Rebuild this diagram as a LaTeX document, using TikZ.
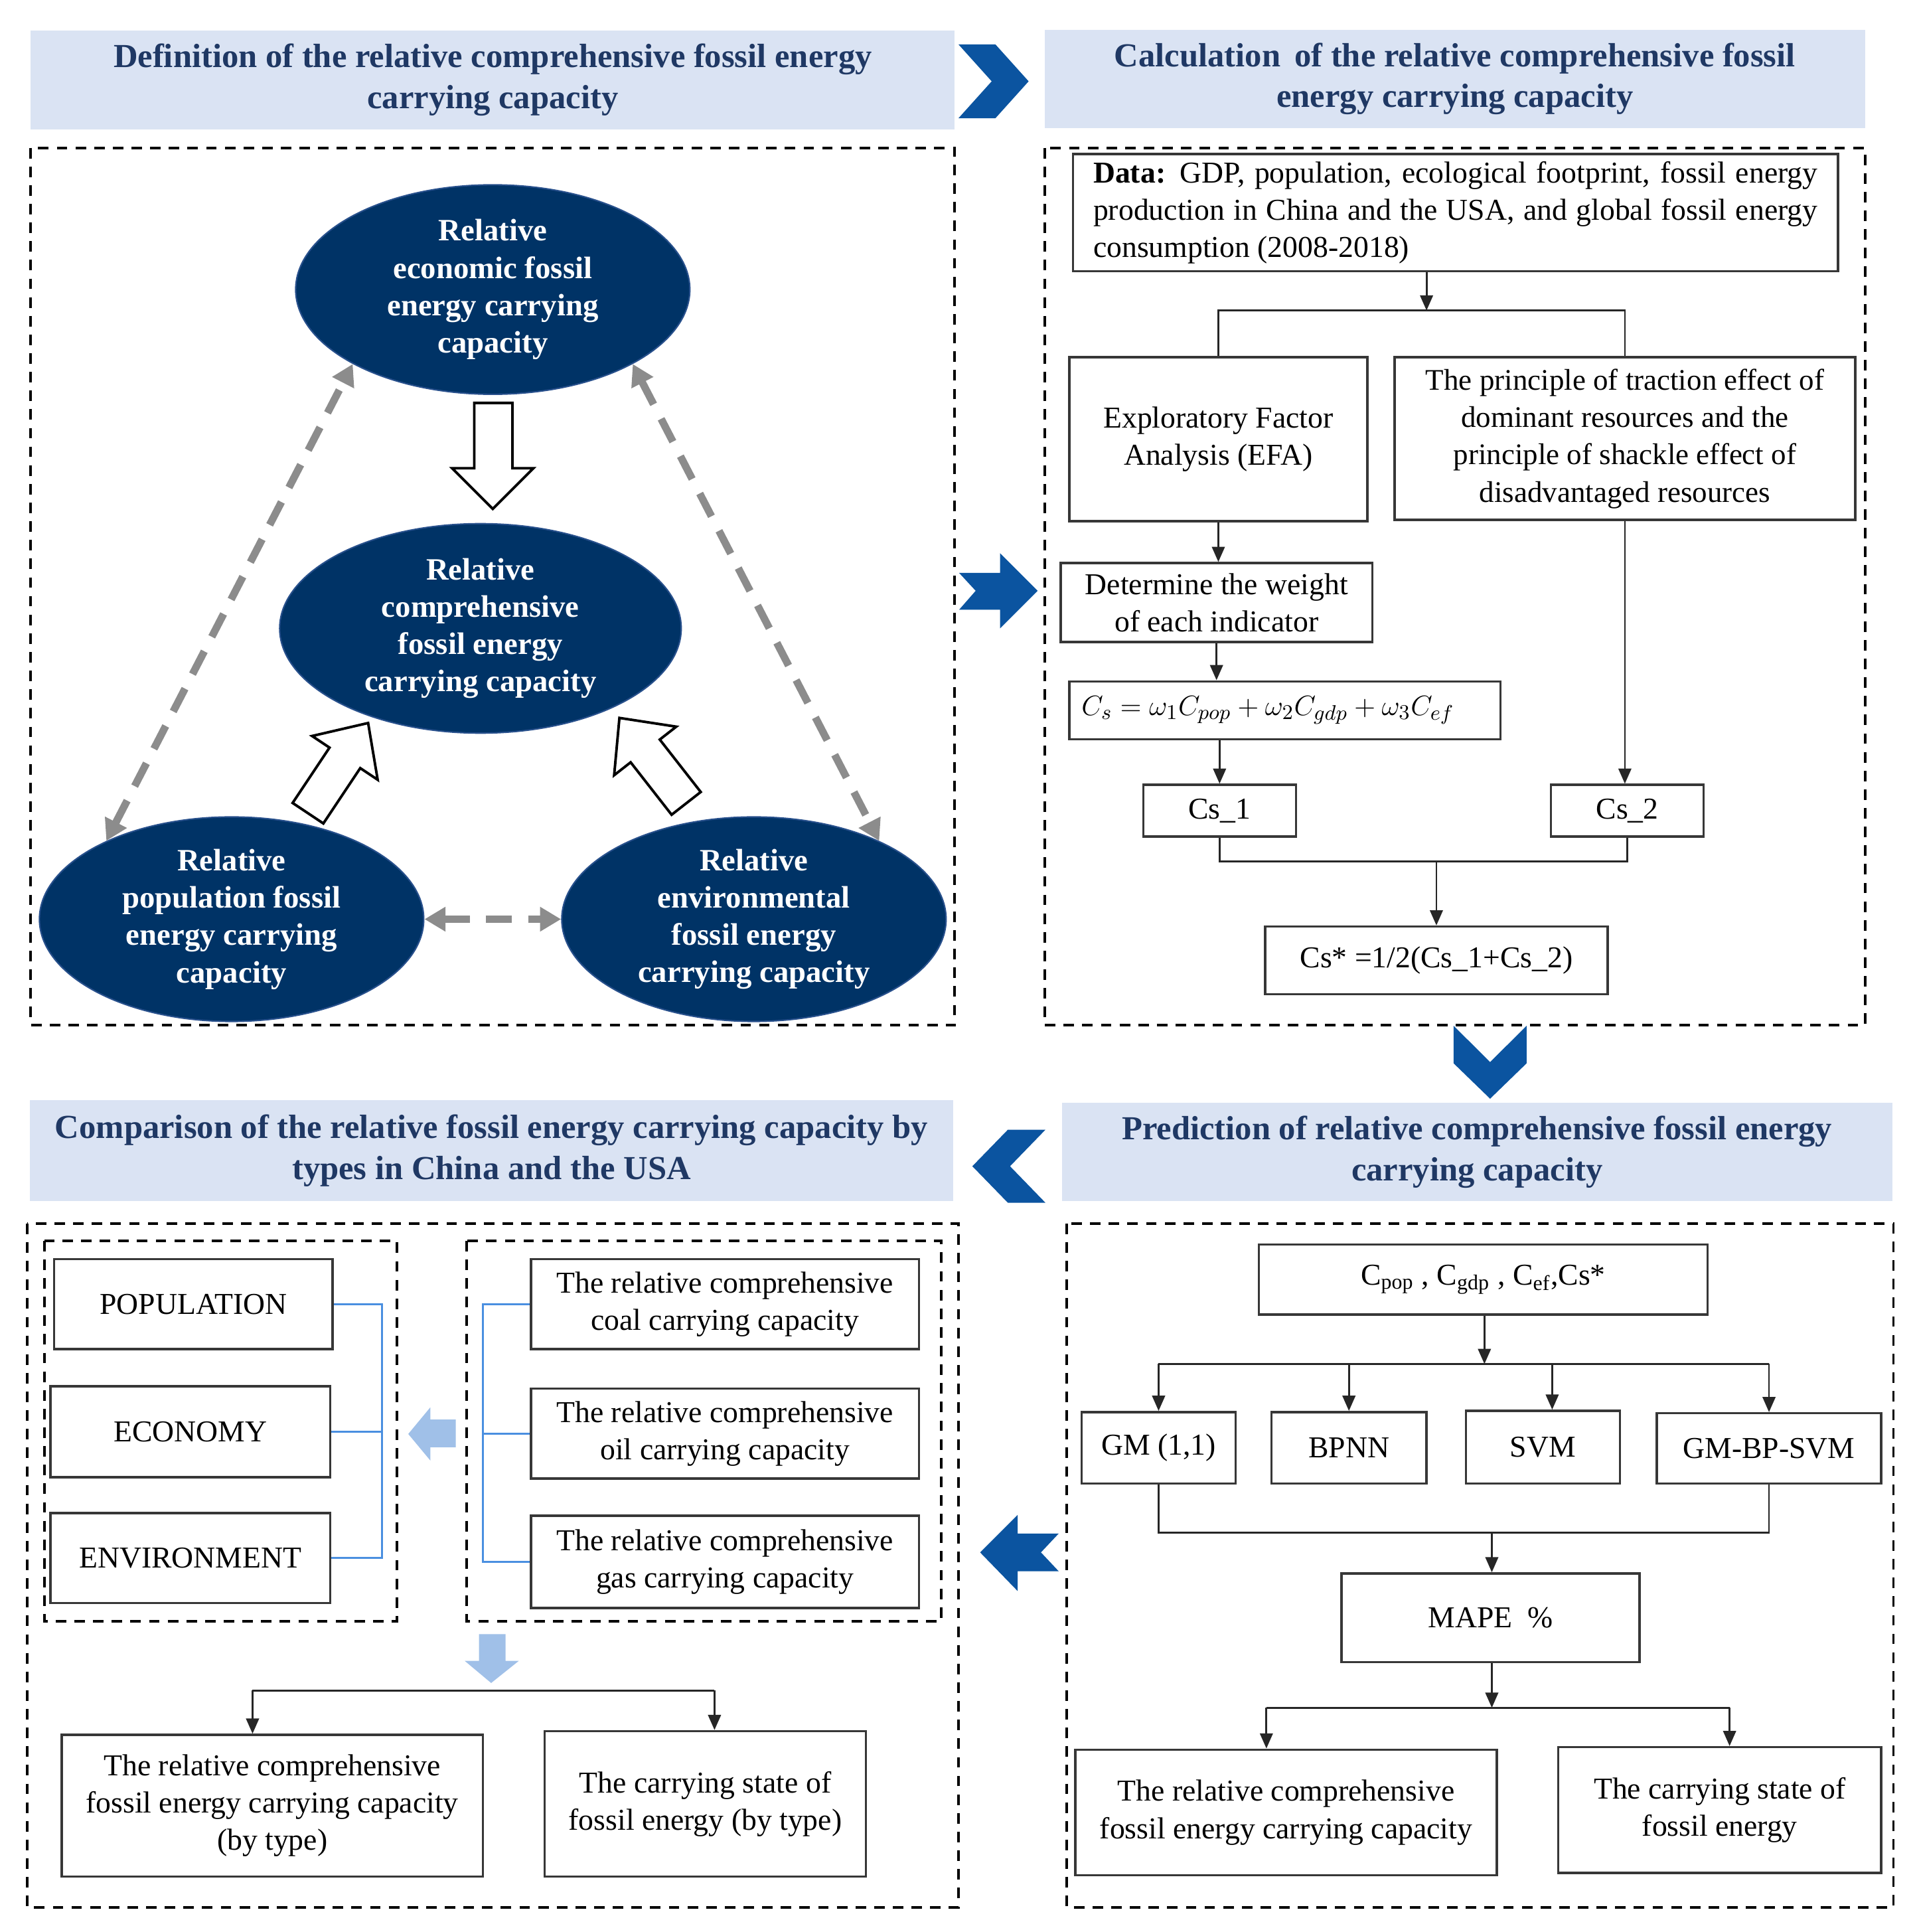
\documentclass[tikz,border=0pt]{standalone}
\usepackage{fontspec}
\setmainfont{Liberation Serif}
\usetikzlibrary{arrows.meta,shapes.geometric,calc}
\definecolor{navy}{RGB}{0,51,102}
\definecolor{navyedge}{RGB}{40,80,140}
\definecolor{ttl}{RGB}{31,56,100}
\definecolor{band}{RGB}{218,227,243}
\definecolor{chev}{RGB}{11,84,160}
\definecolor{lblue}{RGB}{160,192,232}
\definecolor{lline}{RGB}{74,143,224}
\definecolor{dgray}{RGB}{140,140,140}
\definecolor{boxc}{RGB}{55,55,55}
\def\pxu{0.01856cm}
\newcommand{\mybox}[7]{\node[#1, minimum width={((#4)-(#2))*\pxu}, minimum height={((#5)-(#3))*\pxu}] (#6) at ({((#2)+(#4))/2},{((#3)+(#5))/2}) {#7};}
\tikzset{
  titleband/.style={fill=band, text=ttl, font=\fontsize{14.4}{17.6}\selectfont\bfseries, align=center, inner sep=0pt},
  dbox/.style={draw=black, line width=1.1pt, dash pattern=on 4.5pt off 3.5pt},
  plainbox/.style={draw=boxc, line width=1pt, fill=white, align=center, inner sep=0pt, font=\fontsize{13}{16}\selectfont},
  ell/.style={ellipse, fill=navy, draw=navyedge, line width=0.6pt, text=white, align=center, inner sep=0pt, font=\fontsize{13.3}{16}\selectfont\bfseries},
  conn/.style={draw=black!85, line width=0.8pt},
  arr/.style={conn, -{Triangle[length=6.5pt,width=5.5pt]}},
  grayarr/.style={draw=dgray, line width=3.2pt, dash pattern=on 11pt off 7pt, {Triangle[length=9pt,width=10pt]}-{Triangle[length=9pt,width=10pt]}},
  hollow/.style={draw=black, line width=1.1pt, fill=white, line join=miter},
  chevron/.style={fill=chev, draw=none},
  lightarrow/.style={fill=lblue, draw=none},
  blueline/.style={draw=lline, line width=0.8pt},
}
\begin{document}
\begin{tikzpicture}[x=0.01856cm, y=-0.01856cm]
\useasboundingbox (0,0) rectangle (1556,1568);

% ---------- title bands ----------
\mybox{titleband}{25}{25}{775}{105}{t1}{Definition of the relative comprehensive fossil energy\\carrying capacity}
\mybox{titleband}{848}{24}{1514}{104}{t2}{Calculation\, of the relative comprehensive fossil\\energy carrying capacity}
\mybox{titleband}{24}{893}{774}{975}{t3}{Comparison of the relative fossil energy carrying capacity by\\types in China and the USA}
\mybox{titleband}{862}{895}{1536}{975}{t4}{Prediction of relative comprehensive fossil energy\\carrying capacity}

% ---------- chevrons / block arrows between panels ----------
\fill[chevron] (778,36) -- (808,36) -- (835,66) -- (808,96) -- (778,96) -- (805,66) -- cycle;
\fill[chevron] (778.6,465) -- (811.8,465) -- (811.8,449) -- (842.3,479.5) -- (811.8,510) -- (811.8,494.8) -- (778.6,494.8) -- (792,479.5) -- cycle;
\fill[chevron] (1180,832.5) -- (1209.6,862) -- (1239.2,832.5) -- (1239.2,863) -- (1209.6,891.7) -- (1180,863) -- cycle;
\fill[chevron] (848.6,916.9) -- (818.1,916.9) -- (789.3,946.5) -- (818.1,976.1) -- (848.6,976.1) -- (819.9,946.5) -- cycle;
\fill[chevron] (795.6,1259.9) -- (826.1,1229.4) -- (826.1,1244.6) -- (859.4,1244.6) -- (845,1259.9) -- (859.4,1275.2) -- (826.1,1275.2) -- (826.1,1291.3) -- cycle;

% ---------- panel 1: definition ----------
\draw[dbox] (25,120) rectangle (775,832);
\node[ell, minimum width={320*\pxu}, minimum height={170*\pxu}] (eco) at (400,235) {Relative\\economic fossil\\energy carrying\\capacity};
\node[ell, minimum width={326*\pxu}, minimum height={170*\pxu}] (comp) at (390,510) {Relative\\comprehensive\\fossil energy\\carrying capacity};
\node[ell, minimum width={312*\pxu}, minimum height={166*\pxu}] (pope) at (188,746) {Relative\\population fossil\\energy carrying\\capacity};
\node[ell, minimum width={312*\pxu}, minimum height={166*\pxu}] (enve) at (612,746) {Relative\\environmental\\fossil energy\\carrying capacity};

\draw[grayarr] (pope.148) -- (eco.208);
\draw[grayarr] (eco.332) -- (enve.32);
\draw[grayarr] (pope.east) -- (enve.west);

\draw[hollow] (385,327) -- (416,327) -- (416,380) -- (433,380) -- (400,413) -- (367,380) -- (385,380) -- cycle;
\begin{scope}[shift={(250,660)}, rotate=56.3]
  \draw[hollow] (0,-15) -- (54,-15) -- (54,-32) -- (88,0) -- (54,32) -- (54,15) -- (0,15) -- cycle;
\end{scope}
\begin{scope}[shift={(557,652)}, rotate=128]
  \draw[hollow] (0,-15) -- (54,-15) -- (54,-32) -- (88,0) -- (54,32) -- (54,15) -- (0,15) -- cycle;
\end{scope}

% ---------- panel 2: calculation ----------
\draw[dbox] (848,120) rectangle (1514,832);
\mybox{plainbox, align=justify, text width={588*\pxu}}{871}{125}{1492}{220}{data}{\textbf{Data:} GDP, population, ecological footprint, fossil energy\linebreak production in China and the USA, and global fossil energy\linebreak consumption (2008-2018)}
\mybox{plainbox}{868}{290}{1110}{423}{efa}{Exploratory Factor\\Analysis (EFA)}
\mybox{plainbox, font=\fontsize{12.8}{16}\selectfont}{1132}{290}{1506}{422}{prin}{The principle of traction effect of\\dominant resources and the\\principle of shackle effect of\\disadvantaged resources}
\mybox{plainbox}{861}{457}{1114}{521}{det}{Determine the weight\\of each indicator}
\mybox{plainbox, font=\fontsize{12.4}{16}\selectfont, text width={330*\pxu}, align=left}{868}{553}{1218}{600}{form}{\mbox{$C_s=\omega_1C_{pop}+\omega_2C_{gdp}+\omega_3C_{ef}$}}
\mybox{plainbox}{928}{637}{1052}{679}{csa}{Cs\_1}
\mybox{plainbox}{1259}{637}{1383}{679}{csb}{Cs\_2}
\mybox{plainbox}{1027}{752}{1305}{807}{csstar}{Cs* =1/2(Cs\_1+Cs\_2)}

\coordinate (s1) at (1158,252);
\draw[arr] (s1 |- data.south) -- (s1);
\draw[conn] (efa.north) |- (s1) -| (prin.north);
\draw[arr] (efa.south) -- (efa.south |- det.north);
\draw[arr] (det.south) -- (det.south |- form.north);
\draw[arr] (csa.north |- form.south) -- (csa.north);
\draw[arr] (prin.south) -- (prin.south |- csb.north);
\coordinate (j1) at (1166,699);
\draw[conn] (csa.south) |- (j1) -| (csb.south);
\draw[arr] (j1) -- (csstar.north);

% ---------- panel 4: prediction ----------
\draw[dbox] (866,993) rectangle (1537,1548);
\mybox{plainbox}{1022}{1010}{1386}{1067}{cp}{C\textsubscript{pop} , C\textsubscript{gdp} , C\textsubscript{ef},Cs*}
\mybox{plainbox}{878}{1146}{1003}{1204}{gm}{GM (1,1)}
\mybox{plainbox}{1032}{1146}{1158}{1204}{bp}{BPNN}
\mybox{plainbox}{1190}{1145}{1315}{1204}{svm}{SVM}
\mybox{plainbox}{1345}{1147}{1527}{1204}{gbs}{GM-BP-SVM}
\mybox{plainbox}{1089}{1277}{1331}{1349}{mape}{MAPE\ \ \%}
\mybox{plainbox}{873}{1420}{1215}{1522}{o1}{The relative comprehensive\\fossil energy carrying capacity}
\mybox{plainbox}{1265}{1418}{1527}{1520}{o2}{The carrying state of\\fossil energy}

\coordinate (s2) at (1205,1107);
\draw[arr] (s2 |- cp.south) -- (s2);
\draw[conn] (s2 -| gm.north) -- (s2 -| gbs.north);
\draw[arr] (s2 -| gm.north) -- (gm.north);
\draw[arr] (s2 -| bp.north) -- (bp.north);
\coordinate (s2b) at (1260,1107);
\draw[arr] (s2b) -- (s2b |- svm.north);
\draw[arr] (s2 -| gbs.north) -- (gbs.north);
\coordinate (j2) at (1211,1244);
\draw[conn] (gm.south) |- (j2) -| (gbs.south);
\draw[arr] (j2) -- (j2 |- mape.north);
\coordinate (s3) at (1211,1386);
\coordinate (a1) at (1028,1386);
\coordinate (a2) at (1404,1386);
\draw[arr] (s3 |- mape.south) -- (s3);
\draw[conn] (a1) -- (a2);
\draw[arr] (a1) -- (a1 |- o1.north);
\draw[arr] (a2) -- (a2 |- o2.north);

% ---------- panel 3: comparison ----------
\draw[dbox] (22,993) rectangle (778,1548);
\draw[dbox] (36,1007) rectangle (322,1316);
\draw[dbox] (379,1007) rectangle (764,1316);
\mybox{plainbox}{44}{1022}{270}{1095}{pop}{POPULATION}
\mybox{plainbox}{41}{1125}{268}{1199}{econ}{ECONOMY}
\mybox{plainbox}{41}{1228}{268}{1301}{env}{ENVIRONMENT}
\mybox{plainbox}{431}{1022}{746}{1095}{coal}{The relative comprehensive\\coal carrying capacity}
\mybox{plainbox}{431}{1127}{746}{1200}{oil}{The relative comprehensive\\oil carrying capacity}
\mybox{plainbox}{431}{1230}{746}{1305}{gas}{The relative comprehensive\\gas carrying capacity}
\mybox{plainbox}{50}{1408}{392}{1523}{r1}{The relative comprehensive\\fossil energy carrying capacity\\(by type)}
\mybox{plainbox}{442}{1405}{703}{1523}{r2}{The carrying state of\\fossil energy (by type)}

\coordinate (v1) at (310,1160);
\draw[blueline] (pop.east) -- (pop.east -| v1) -- (env.east -| v1) -- (env.east);
\draw[blueline] (econ.east) -- (econ.east -| v1);
\coordinate (v2) at (392,1160);
\draw[blueline] (coal.west) -- (coal.west -| v2) -- (gas.west -| v2) -- (gas.west);
\draw[blueline] (oil.west) -- (oil.west -| v2);

\fill[lightarrow] (331.4,1163.8) -- (349.3,1142.2) -- (349.3,1152.1) -- (370,1152.1) -- (370,1174.6) -- (349.3,1174.6) -- (349.3,1185.3) -- cycle;
\fill[lightarrow] (388.8,1326.3) -- (410.4,1326.3) -- (410.4,1347.9) -- (421.2,1347.9) -- (398.7,1365.9) -- (377.2,1347.9) -- (388.8,1347.9) -- cycle;

\coordinate (b1) at (205,1372);
\coordinate (b2) at (580,1372);
\draw[conn] (b1) -- (b2);
\draw[arr] (b1) -- (b1 |- r1.north);
\draw[arr] (b2) -- (b2 |- r2.north);
\end{tikzpicture}
\end{document}
